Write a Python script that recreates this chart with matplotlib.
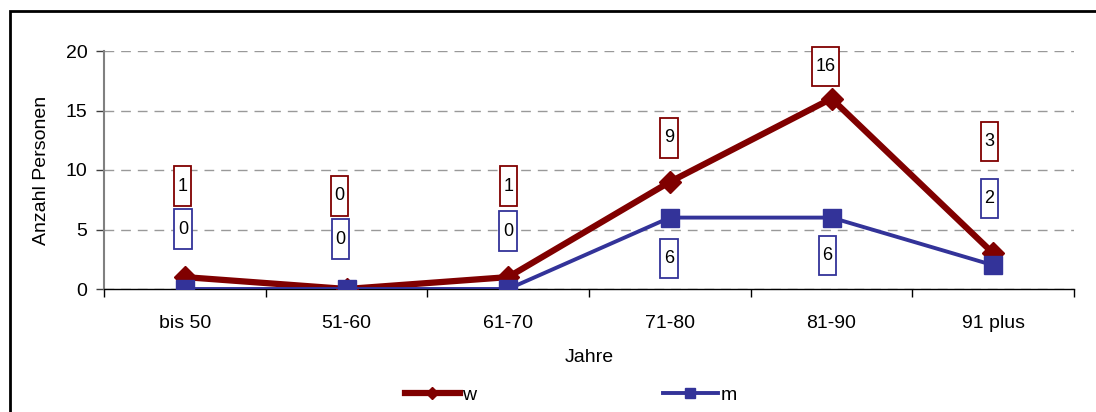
"""Line chart: Anzahl Personen nach Jahrgang, w / m."""
import matplotlib
matplotlib.use("Agg")
import matplotlib.pyplot as plt
from matplotlib.path import Path
from matplotlib.patches import Rectangle

categories = ["bis 50", "51-60", "61-70", "71-80", "81-90", "91 plus"]
w_values = [1, 0, 1, 9, 16, 3]
m_values = [0, 0, 0, 6, 6, 2]

# label offsets (pixels) relative to each point, as Excel placed them
w_label_dy = [91, 93, 91, 44, 32, 112]
m_label_dy = [60, 50, 58, -41, -38, 67]
w_label_dx = [-2, -7, 0, -1, -6, -4]
m_label_dx = [-2, -6, 0, -1, -4, -4]

RED = "#800000"
BLUE = "#333399"
FONT = "Liberation Sans"

plt.rcParams["font.family"] = [FONT, "DejaVu Sans"]


def tall_box(x0, y0, width, height, mutation_size):
    # narrow horizontal padding, tall vertical padding
    px = 0.2 * mutation_size
    py = 0.62 * mutation_size
    x0, y0 = x0 - px, y0 - py
    x1, y1 = x0 + width + 2 * px, y0 + height + 2 * py
    return Path([(x0, y0), (x1, y0), (x1, y1), (x0, y1), (x0, y0)], closed=True)


fig = plt.figure(figsize=(10.96, 4.12), dpi=100)
fig.patch.set_facecolor("white")
ax = fig.add_axes([104 / 1096, (412 - 289) / 412, 970 / 1096, 238 / 412])

x = list(range(len(categories)))
ax.plot(x, w_values, color=RED, lw=4.5, marker="D", ms=11, label="w", zorder=3)
ax.plot(x, m_values, color=BLUE, lw=2.8, marker="s", ms=13, label="m", zorder=4)

for xi, v, dx, dy in zip(x, w_values, w_label_dx, w_label_dy):
    ax.annotate(str(v), (xi, v), xytext=(dx, dy), textcoords="offset pixels",
                ha="center", va="center", fontsize=13, zorder=5,
                bbox=dict(boxstyle=tall_box, fc="white", ec=RED, lw=1.3))
for xi, v, dx, dy in zip(x, m_values, m_label_dx, m_label_dy):
    ax.annotate(str(v), (xi, v), xytext=(dx, dy), textcoords="offset pixels",
                ha="center", va="center", fontsize=13, zorder=5,
                bbox=dict(boxstyle=tall_box, fc="white", ec=BLUE, lw=1.3))

ax.set_xlim(-0.5, len(categories) - 0.5)
ax.set_ylim(0, 20)
ax.set_yticks([0, 5, 10, 15, 20])
ax.set_xticks(x)
ax.set_xticklabels(categories)
ax.set_xticks([i - 0.5 for i in range(len(categories) + 1)], minor=True)
ax.tick_params(axis="x", which="major", length=0, pad=19, labelsize=14)
ax.tick_params(axis="x", which="minor", length=6, width=1, color="black")
ax.tick_params(axis="y", length=6, width=1, color="#404040", labelsize=14, pad=6)
ax.yaxis.grid(True, color="#999999", lw=1, linestyle=(0, (7, 5)))
ax.set_axisbelow(True)
for s in ["top", "right"]:
    ax.spines[s].set_visible(False)
ax.spines["left"].set_color("#808080")
ax.spines["left"].set_linewidth(1.5)
ax.spines["bottom"].set_color("black")
ax.spines["bottom"].set_linewidth(1)

ax.set_ylabel("Anzahl Personen", fontsize=14, labelpad=11)
ax.set_xlabel("Jahre", fontsize=14, labelpad=12)

fig.legend(loc="center", bbox_to_anchor=(571 / 1096, 17 / 412), ncol=2,
           frameon=False, fontsize=14, handlelength=2.8, columnspacing=9.6,
           handletextpad=0.15, markerscale=0.6)

# outer frame, open to the right and bottom
fig.patches.append(Rectangle((10 / 1096, -0.1), 1.2, 1.1 - 11 / 412,
                             transform=fig.transFigure, fill=False,
                             ec="black", lw=2, clip_on=False))

fig.savefig("out.png", dpi=100, facecolor="white")
